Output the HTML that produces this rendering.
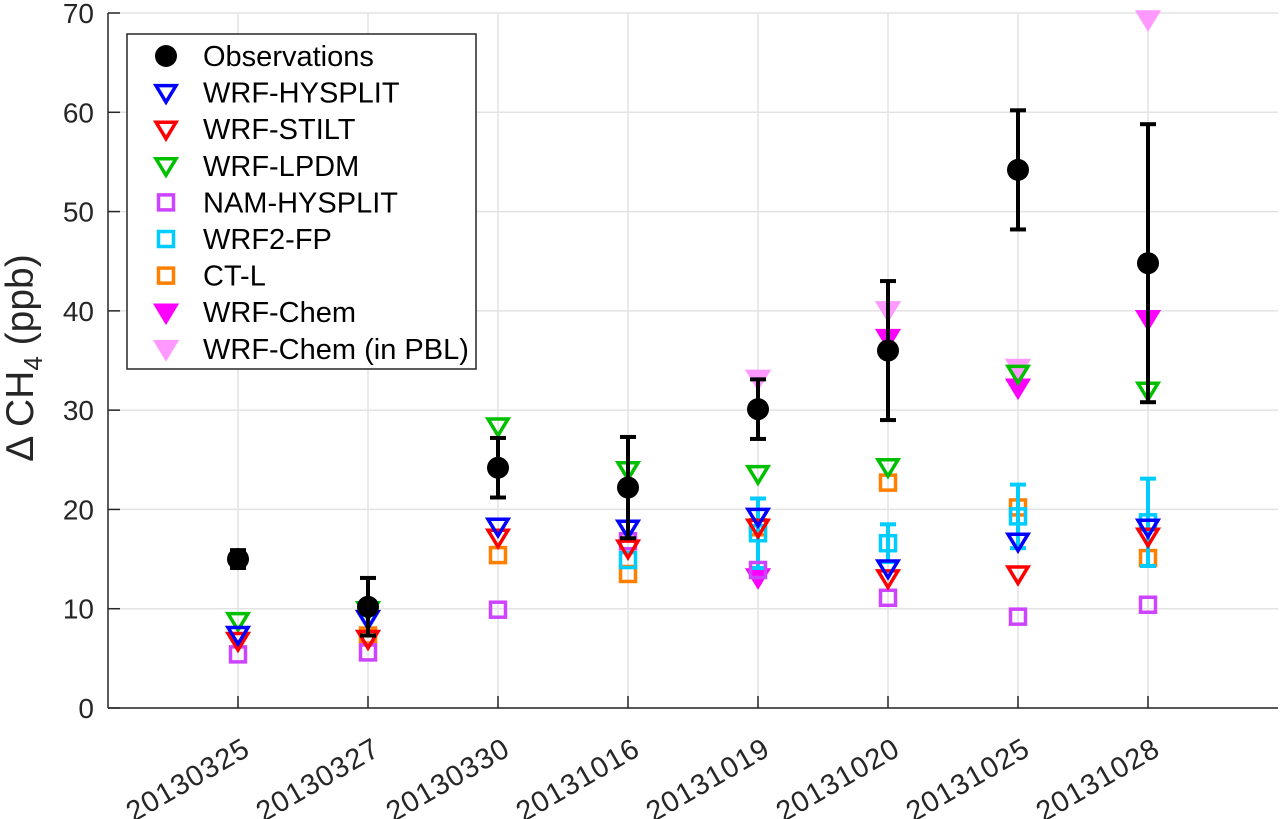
<!DOCTYPE html>
<html><head><meta charset="utf-8"><style>
html,body{margin:0;padding:0;background:#fff;}
svg{display:block;font-family:"Liberation Sans",sans-serif;}
</style></head><body>
<svg id="chart" width="1281" height="819" viewBox="0 0 1281 819" xmlns="http://www.w3.org/2000/svg">
<g id="grid"></g>
<g id="marks"></g>
<g id="axes"></g>
<text transform="translate(33,358) rotate(-90)" text-anchor="middle" font-size="39" fill="#262626">Δ CH<tspan font-size="26" dy="9">4</tspan><tspan dy="-9"> (ppb)</tspan></text>
<g id="legend"></g>
</svg>
<script>
const categories=["20130325","20130327","20130330","20131016","20131019","20131020","20131025","20131028"];
const yTicks=[0,10,20,30,40,50,60,70];
const obs=[15.0,10.2,24.2,22.2,30.1,36.0,54.2,44.8];
const obsErr=[0.9,2.9,3.0,5.1,3.0,7.0,6.0,14.0];
const wrfHysplit=[7.4,9.0,18.3,18.1,19.3,14.1,16.8,18.2];
const wrfStilt=[6.8,7.0,17.2,16.1,18.2,13.1,13.5,17.3];
const wrfLpdm=[8.8,9.9,28.4,24.0,23.6,24.3,33.7,32.0];
const namHysplit=[5.4,5.6,9.9,16.8,13.9,11.1,9.2,10.4];
const wrf2fp=[null,null,null,14.9,17.6,16.6,19.3,18.7];
const wrf2fpErr=[0,0,0,0,3.5,1.9,3.2,4.4];
const ctl=[null,7.3,15.4,13.5,18.2,22.7,20.2,15.1];
const wrfChem=[null,null,null,null,13.2,37.3,32.3,39.2];
const wrfChemPbl=[null,null,null,null,33.2,40.1,34.3,69.4];

const NS="http://www.w3.org/2000/svg";
const X0=108,X1=1278,Y0=708,Y1=13;
const xs=i=>X0+(i+1)*(X1-X0)/(categories.length+1);
const ys=v=>Y0-(v/70)*(Y0-Y1);
function mk(tag,attrs,parent){const e=document.createElementNS(NS,tag);for(const k in attrs)e.setAttribute(k,attrs[k]);parent.appendChild(e);return e;}
const grid=document.getElementById('grid'),marks=document.getElementById('marks'),axes=document.getElementById('axes'),legend=document.getElementById('legend');
mk('rect',{x:X0,y:Y1,width:X1-X0,height:Y0-Y1,fill:'#fff'},grid);
yTicks.forEach(t=>{const l=mk('line',{x1:X0,x2:X1,y1:ys(t),y2:ys(t),stroke:'#e3e3e3','stroke-width':1.5},grid);


mk('line',{x1:X0,x2:X0+12,y1:ys(t),y2:ys(t),stroke:'#262626','stroke-width':1.5},axes);
const tx=mk('text',{x:X0-14,y:ys(t)+10,'text-anchor':'end','font-size':28,fill:'#262626'},axes);tx.textContent=t;

});
categories.forEach((c,i)=>{const x=xs(i);
const l=mk('line',{x1:x,x2:x,y1:Y1,y2:Y0,stroke:'#e3e3e3','stroke-width':1.5},grid);


mk('line',{x1:x,x2:x,y1:Y0,y2:Y0-12,stroke:'#262626','stroke-width':1.5},axes);
const tx=mk('text',{transform:`translate(${x+14},${Y0+46}) rotate(-30)`,'text-anchor':'end','font-size':29,'letter-spacing':'1',fill:'#262626'},axes);tx.textContent=c;

});
mk('line',{x1:X0,x2:X0,y1:Y1,y2:Y0,stroke:'#262626','stroke-width':1.5},axes);
mk('line',{x1:X0,x2:X1,y1:Y0,y2:Y0,stroke:'#262626','stroke-width':1.5},axes);

function tri(g,x,y,col,filled){const s=10;mk('polygon',{points:`${x-s},${y-s*0.7} ${x+s},${y-s*0.7} ${x},${y+s*0.95}`,fill:filled?col:'none',stroke:col,'stroke-width':3.5,'stroke-linejoin':'miter'},g);}
function sq(g,x,y,col){mk('rect',{x:x-7.5,y:y-7.5,width:15,height:15,fill:'none',stroke:col,'stroke-width':3.5},g);}
function circ(g,x,y,col){mk('circle',{cx:x,cy:y,r:11,fill:col},g);}
function err(g,x,v,e,col){if(!e)return;const a=ys(v+e),b=ys(v-e);mk('line',{x1:x,x2:x,y1:a,y2:b,stroke:col,'stroke-width':4},g);
mk('line',{x1:x-8,x2:x+8,y1:a,y2:a,stroke:col,'stroke-width':4},g);mk('line',{x1:x-8,x2:x+8,y1:b,y2:b,stroke:col,'stroke-width':4},g);}
const series=[
 {name:'Observations',data:obs,err:obsErr,col:'#000',draw:circ,key:'observations'},
 {name:'WRF-HYSPLIT',data:wrfHysplit,col:'#0000ff',draw:(g,x,y,c)=>tri(g,x,y,c,false),key:'wrf-hysplit'},
 {name:'WRF-STILT',data:wrfStilt,col:'#ff0000',draw:(g,x,y,c)=>tri(g,x,y,c,false),key:'wrf-stilt'},
 {name:'WRF-LPDM',data:wrfLpdm,col:'#00c000',draw:(g,x,y,c)=>tri(g,x,y,c,false),key:'wrf-lpdm'},
 {name:'NAM-HYSPLIT',data:namHysplit,col:'#cc44ff',draw:sq,key:'nam-hysplit'},
 {name:'WRF2-FP',data:wrf2fp,err:wrf2fpErr,col:'#00ccff',draw:sq,key:'wrf2-fp'},
 {name:'CT-L',data:ctl,col:'#ff8000',draw:sq,key:'ct-l'},
 {name:'WRF-Chem',data:wrfChem,col:'#ff00ff',draw:(g,x,y,c)=>tri(g,x,y,c,true),key:'wrf-chem'},
 {name:'WRF-Chem (in PBL)',data:wrfChemPbl,col:'#ff99ff',draw:(g,x,y,c)=>tri(g,x,y,c,true),key:'wrf-chem-pbl'}
];
const order=[8,7,6,5,4,3,2,1,0];
order.forEach(si=>{const s=series[si];const g=mk('g',{},marks);


s.data.forEach((v,i)=>{if(v==null)return;const x=xs(i);if(s.err)err(g,x,v,s.err[i],s.col);s.draw(g,x,ys(v),s.col);});});
mk('rect',{x:127,y:34,width:349,height:335,fill:'#fff',stroke:'#262626','stroke-width':1.5},legend);
series.forEach((s,i)=>{const y=56+i*36.6;const g=mk('g',{},legend);


s.draw(g,166,y,s.col);
const t=mk('text',{x:203,y:y+10,'font-size':29,fill:'#000'},g);t.textContent=s.name;});
</script>
</body></html>
